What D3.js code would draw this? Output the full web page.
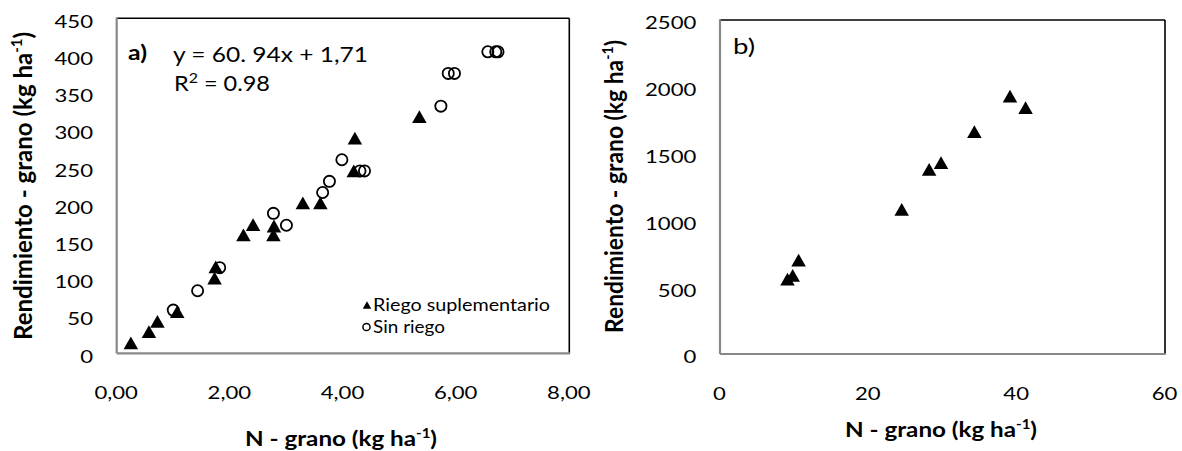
<!DOCTYPE html>
<html><head><meta charset="utf-8">
<script src="https://cdn.jsdelivr.net/npm/d3@7"></script>
<style>
html,body{margin:0;padding:0;background:#fff;}
svg{display:block;font-family:Lato, "Open Sans", sans-serif;}
</style></head><body>
<svg id="chart" width="1182" height="451"></svg>
<script>
// ---------- data ----------
const riegoN_a = [0.25, 0.57, 0.72, 1.07, 1.73, 1.75, 2.24, 2.41, 2.77, 2.78, 3.29, 3.60, 4.19, 4.21, 5.35];
const riegoY_a = [14, 29, 43, 56, 101, 116, 159, 173, 159, 171, 202, 202, 245, 289, 318];
const sinN_a = [1.00, 1.43, 1.82, 2.77, 3.00, 3.64, 3.76, 3.98, 4.30, 4.38, 5.73, 5.86, 5.97, 6.56, 6.70, 6.74];
const sinY_a = [58, 84, 115, 188, 172, 216, 231, 260, 245, 245, 332, 376, 376, 405, 405, 405];
const riegoN_b = [9.1, 9.8, 10.6, 24.5, 28.2, 29.8, 34.3, 39.1, 41.2];
const riegoY_b = [560, 588, 703, 1083, 1382, 1432, 1664, 1931, 1844];

const xTicksA = [0, 2, 4, 6, 8];
const yTicksA = [0, 50, 100, 150, 200, 250, 300, 350, 400, 450];
const xTicksB = [0, 20, 40, 60];
const yTicksB = [0, 500, 1000, 1500, 2000, 2500];

const legendLabels = ["Riego suplementario", "Sin riego"];
const eqLine1 = "y = 60. 94x + 1,71";
const eqLine2Parts = ["R", "2", " = 0.98"];
const panelLabels = ["a)", "b)"];
const xTitleParts = ["N - grano (kg ha", "-1", ")"];
const yTitleParts = ["Rendimiento - grano (kg ha", "-1", ")"];

// ---------- setup ----------
const svg = d3.select("#chart");
svg.append("rect").attr("width", 1182).attr("height", 451).attr("fill", "#fff");
const SX = 1.25;

const triType = {
  draw(ctx, size) {
    const w = Math.sqrt(size), h = w * 0.88;
    ctx.moveTo(0, -h / 2);
    ctx.lineTo(w / 2, h / 2);
    ctx.lineTo(-w / 2, h / 2);
    ctx.closePath();
  }
};

function addText(g, parts, o) {
  let tf = `translate(${o.x},${o.y}) scale(${o.sx || 1},1)` + (o.rotate ? ` rotate(${o.rotate})` : "");
  const t = g.append("text").attr("transform", tf)
    .attr("font-size", o.size).attr("font-weight", o.weight || 400)
    .attr("text-anchor", o.anchor || "start").attr("fill", "#000");
  if (typeof parts === "string") parts = [parts];
  if (parts.length === 1) {
    t.text(parts[0]);
  } else {
    const up = o.size * (o.up || 0.38);
    const supSize = o.size * (o.supScale || 0.62);
    t.append("tspan").text(parts[0]);
    t.append("tspan").attr("font-size", supSize).attr("dy", -up).text(parts[1]);
    t.append("tspan").attr("font-size", o.size).attr("dy", up).text(parts[2]);
  }
  if (o.len) t.attr("textLength", o.len).attr("lengthAdjust", "spacingAndGlyphs");
  return t;
}

function panel(c) {
  const g = svg.append("g");
  const x = d3.scaleLinear().domain(c.xDomain).range([c.left, c.right]);
  const y = d3.scaleLinear().domain(c.yDomain).range([c.bottom, c.top]);

  // frame
  g.append("line").attr("x1", c.left).attr("x2", c.right).attr("y1", c.top).attr("y2", c.top)
    .attr("stroke", "#000").attr("stroke-width", 1.6);
  g.append("line").attr("x1", c.right).attr("x2", c.right).attr("y1", c.top).attr("y2", c.bottom)
    .attr("stroke", "#000").attr("stroke-width", 1.6);
  g.append("line").attr("x1", c.left).attr("x2", c.left).attr("y1", c.top - 0.8).attr("y2", c.bottom)
    .attr("stroke", "#888").attr("stroke-width", 2.2);
  g.append("line").attr("x1", c.left).attr("x2", c.right + 0.8).attr("y1", c.bottom).attr("y2", c.bottom)
    .attr("stroke", "#888").attr("stroke-width", 2.2);

  // axes
  const gy = g.append("g").attr("transform", `translate(${c.left},0)`)
    .call(d3.axisLeft(y).tickValues(c.yTicks).tickSize(0).tickFormat(c.yFmt));
  gy.select(".domain").remove();
  gy.attr("font-family", null).attr("font-size", null);
  gy.selectAll("text").attr("x", 0).attr("dy", 0)
    .attr("transform", `translate(-23.7,8.9) scale(${SX},1)`)
    .attr("font-size", 17.7).attr("fill", "#000").attr("text-anchor", "end");

  const gx = g.append("g").attr("transform", `translate(0,${c.bottom})`)
    .call(d3.axisBottom(x).tickValues(c.xTicks).tickSize(0).tickFormat(c.xFmt));
  gx.select(".domain").remove();
  gx.attr("font-family", null).attr("font-size", null);
  gx.selectAll("text").attr("y", 0).attr("dy", 0)
    .attr("transform", `translate(-1,46) scale(${SX},1)`)
    .attr("font-size", 17.7).attr("fill", "#000").attr("text-anchor", "middle");

  // points
  if (c.circles) {
    g.append("g").selectAll("circle").data(d3.range(c.circles[0].length)).join("circle")
      .attr("cx", i => x(c.circles[0][i])).attr("cy", i => y(c.circles[1][i]))
      .attr("r", 5.6).attr("fill", "none").attr("stroke", "#000").attr("stroke-width", 1.8);
  }
  const sym = d3.symbol().type(triType).size(14.5 * 14.5);
  g.append("g").selectAll("path").data(d3.range(c.tris[0].length)).join("path")
    .attr("transform", i => `translate(${x(c.tris[0][i])},${y(c.tris[1][i])})`)
    .attr("d", sym).attr("fill", "#000");

  // titles
  addText(g, xTitleParts, { x: c.xtX, y: c.xtY, size: 21, weight: 700, len: 192 });
  addText(g, yTitleParts, { x: c.ytX, y: c.ytY, size: 21, weight: 700, len: c.ytLen, sx: 1.2, rotate: -90 });
  return { g, x, y };
}

const fmtComma = d => d3.format(".2f")(d).replace(".", ",");

const A = panel({
  left: 116.7, right: 569.3, top: 18.3, bottom: 353.3,
  xDomain: [0, 8], yDomain: [0, 450], xTicks: xTicksA, yTicks: yTicksA,
  xFmt: fmtComma, yFmt: d3.format("d"),
  circles: [sinN_a, sinY_a], tris: [riegoN_a, riegoY_a],
  xtX: 245, xtY: 446, ytX: 31.5, ytY: 340, ytLen: 308
});

const B = panel({
  left: 720, right: 1165, top: 20, bottom: 354,
  xDomain: [0, 60], yDomain: [0, 2500], xTicks: xTicksB, yTicks: yTicksB,
  xFmt: d3.format("d"), yFmt: d3.format("d"),
  circles: null, tris: [riegoN_b, riegoY_b],
  xtX: 845, xtY: 437, ytX: 623, ytY: 333, ytLen: 293
});

// panel a annotations
addText(A.g, panelLabels[0], { x: 128, y: 60, size: 21, weight: 700, len: 19 });
addText(A.g, eqLine1, { x: 173, y: 61.5, size: 21, len: 195 });
addText(A.g, eqLine2Parts, { x: 174, y: 90.5, size: 21, len: 96, up: 0.36, supScale: 0.68 });

// legend
const legSym = d3.symbol().type(triType).size(8.5 * 8.5);
A.g.append("path").attr("transform", "translate(367,305)").attr("d", legSym).attr("fill", "#000");
A.g.append("circle").attr("cx", 366.5).attr("cy", 327).attr("r", 3.6)
  .attr("fill", "none").attr("stroke", "#000").attr("stroke-width", 1.5);
addText(A.g, legendLabels[0], { x: 373, y: 310.7, size: 17, len: 177 });
addText(A.g, legendLabels[1], { x: 373, y: 333, size: 17, len: 72 });

// panel b label
addText(B.g, panelLabels[1], { x: 733, y: 54, size: 21, len: 22 });
</script>
</body></html>
